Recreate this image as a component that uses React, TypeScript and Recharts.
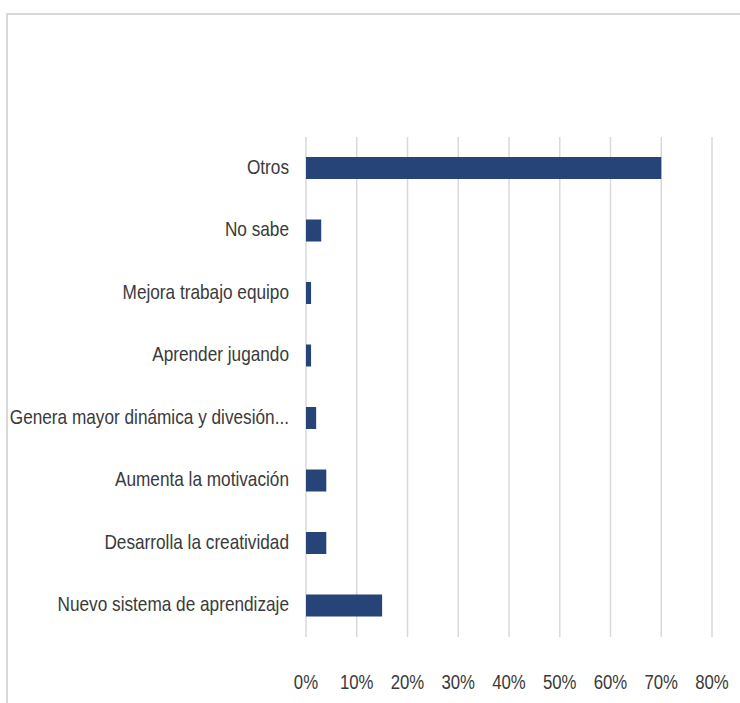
import React from 'react';
import { BarChart, Bar, XAxis, YAxis, CartesianGrid } from 'recharts';

const categorias = [
  'Otros',
  'No sabe',
  'Mejora trabajo equipo',
  'Aprender jugando',
  'Genera mayor dinámica y divesión...',
  'Aumenta la motivación',
  'Desarrolla la creatividad',
  'Nuevo sistema de aprendizaje',
];
const porcentajes = [0.7, 0.03, 0.01, 0.01, 0.02, 0.04, 0.04, 0.15];
const ticksX = [0, 0.1, 0.2, 0.3, 0.4, 0.5, 0.6, 0.7, 0.8];

const datos = categorias.map((name, i) => ({ name, valor: porcentajes[i] }));

const fuente = '"Liberation Sans", Arial, sans-serif';

// texto estrecho tipo Calibri: se comprime en horizontal
const TickX = ({ x, y, payload }: any) => (
  <g transform={`translate(${x}, ${y + 38}) scale(0.8, 1)`}>
    <text x={0} y={0} textAnchor="middle" dominantBaseline="middle" fontFamily={fuente} fontSize={21} fill="#3a3a3a">
      {Math.round(payload.value * 100)}%
    </text>
  </g>
);

const TickY = ({ x, y, payload }: any) => (
  <g transform={`translate(${x - 9}, ${y}) scale(0.82, 1)`}>
    <text x={0} y={0} textAnchor="end" dominantBaseline="middle" fontFamily={fuente} fontSize={21} fill="#3a3a3a">
      {payload.value}
    </text>
  </g>
);

export default function App() {
  return (
    <div style={{ position: 'absolute', left: 0, top: 0, width: 740, height: 703, background: '#fff', overflow: 'hidden' }}>
      <div style={{ position: 'absolute', left: 6, top: 13, width: 740, height: 700, borderTop: '2px solid #d9d9d9', borderLeft: '2px solid #d9d9d9' }} />
      <div style={{ position: 'absolute', left: 0, top: 0 }}>
        <BarChart
          layout="vertical"
          width={740}
          height={703}
          data={datos}
          margin={{ top: 137, right: 28, left: 0, bottom: 0 }}
        >
          <CartesianGrid horizontal={false} stroke="#d9d9d9" strokeWidth={1.5} />
          <XAxis
            type="number"
            domain={[0, 0.8]}
            ticks={ticksX}
            height={66}
            axisLine={false}
            tickLine={false}
            tick={<TickX />}
            interval={0}
          />
          <YAxis
            type="category"
            dataKey="name"
            width={306}
            axisLine={false}
            tickLine={false}
            tick={<TickY />}
            interval={0}
          />
          <Bar dataKey="valor" fill="#264478" barSize={22} isAnimationActive={false} />
        </BarChart>
      </div>
    </div>
  );
}
